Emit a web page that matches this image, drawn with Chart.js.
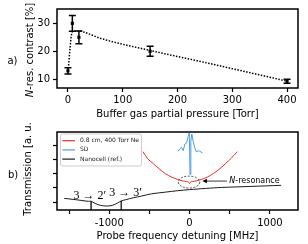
<!DOCTYPE html>
<html>
<head>
<meta charset="utf-8">
<script src="https://cdn.jsdelivr.net/npm/chart.js@4.4.0/dist/chart.umd.min.js"></script>
<style>
  html, body { margin: 0; padding: 0; background: #fff; }
  body { width: 308px; height: 244px; position: relative; overflow: hidden; }
  canvas { position: absolute; left: 0; }
  #chart-a { top: 0; }
  #chart-b { top: 122px; }
</style>
</head>
<body>
<canvas id="chart-a" width="308" height="122"></canvas>
<canvas id="chart-b" width="308" height="122"></canvas>
<script>
// ─── Panel a: contrast vs buffer gas pressure ───────────────────
const pressure = [0, 8, 20, 150, 400];
const contrast = [13, 30, 25, 20, 9.3];
const contrastErr = [1.1, 2.8, 2.3, 1.8, 0.7];
const fitPressure = [0, 8, 20, 30, 60, 150, 250, 400];
const fitContrast = [12.8, 27.0, 27.3, 26.8, 24.6, 20.3, 16.0, 9.3];
const pressureTicks = [0, 100, 200, 300, 400];
const contrastTicks = [10, 20, 30];

// ─── Panel b: transmission spectra ──────────────────────────────
const redDetuning = [-580, -520, -450, -380, -300, -220, -150, -90, -40, -15, 0, 15, 40, 90, 150, 220, 300, 380, 450, 520, 595];
const redTrans = [4.55, 4.05, 3.70, 3.35, 3.00, 2.75, 2.60, 2.50, 2.45, 2.42, 2.30, 2.42, 2.45, 2.50, 2.60, 2.76, 3.02, 3.37, 3.72, 4.10, 4.55];
const sdDetuning = [-142, -121, -100, -79, -58, -37, -17, -3, 6, 16, 28, 45, 66, 87, 108, 129, 162];
const sdTrans = [4.58, 4.76, 4.86, 4.62, 5.09, 5.16, 5.63, 5.87, 2.95, 5.30, 5.80, 5.28, 4.81, 4.53, 4.62, 4.58, 4.46];
const nanoDetuning = [-1560, -1450, -1340, -1260, -1225, -1190, -1140, -1080, -1020, -960, -900, -850, -800, -700, -600, -475, -300, -150, 0, 200, 400, 750, 1140];
const nanoTrans = [1.26, 1.19, 1.11, 1.05, 1.06, 0.95, 0.82, 0.74, 0.72, 0.77, 0.92, 1.08, 1.16, 1.30, 1.42, 1.58, 1.70, 1.80, 1.88, 1.96, 2.03, 2.10, 2.18];
const transitionX = [-1225, -850];
const transitionTop = [1.06, 1.08];
const transitionLabels = ['3 \u2192 2\u2032', '3 \u2192 3\u2032'];
const transitionLabelX = [-1240, -795];
const transitionLabelY = [1.46, 1.65];
const detuningTicks = [-1500, -1000, -500, 0, 500, 1000];
const detuningLabelled = [-1000, 0, 1000];
const transTicks = [1, 2, 3, 4, 5];
const yMinB = 0.44, yMaxB = 5.94;

Chart.defaults.font.family = "'DejaVu Sans', sans-serif";
Chart.defaults.font.size = 10;
Chart.defaults.color = '#000';

const xy = (xs, ys) => xs.map((x, i) => ({ x, y: ys[i] }));

// box round the plot area, like matplotlib spines
const frame = {
  id: 'frame',
  afterDraw(chart) {
    const { ctx, chartArea: a } = chart;
    ctx.save();
    ctx.strokeStyle = '#000';
    ctx.lineWidth = 1.5;
    ctx.strokeRect(a.left, a.top, a.right - a.left, a.bottom - a.top);
    ctx.restore();
  }
};

// rotated y title, with optional italic first letter
function drawYTitle(ctx, cx, cy, italicPart, rest) {
  ctx.save();
  ctx.translate(cx, cy);
  ctx.rotate(-Math.PI / 2);
  ctx.fillStyle = '#000';
  ctx.textBaseline = 'middle';
  ctx.font = "italic 10px 'DejaVu Sans'";
  const w1 = italicPart ? ctx.measureText(italicPart).width : 0;
  ctx.font = "10px 'DejaVu Sans'";
  const w2 = ctx.measureText(rest).width;
  let x = -(w1 + w2) / 2;
  if (italicPart) {
    ctx.font = "italic 10px 'DejaVu Sans'";
    ctx.fillText(italicPart, x, 0);
    x += w1;
  }
  ctx.font = "10px 'DejaVu Sans'";
  ctx.fillText(rest, x, 0);
  ctx.restore();
}

function axisCommon(tickVals) {
  return {
    grid: { display: true, drawOnChartArea: false, drawTicks: true, tickLength: 4, tickWidth: 1.2, tickColor: '#000' },
    border: { display: false },
    afterBuildTicks: s => { s.ticks = tickVals.map(v => ({ value: v })); }
  };
}

// ─── Chart a ────────────────────────────────────────────────────
const errorBars = {
  id: 'errorBars',
  afterDatasetsDraw(chart) {
    const { ctx, scales: { x, y } } = chart;
    ctx.save();
    ctx.strokeStyle = '#000';
    ctx.lineWidth = 1.5;
    pressure.forEach((p, i) => {
      const px = x.getPixelForValue(p);
      const top = y.getPixelForValue(contrast[i] + contrastErr[i]);
      const bot = y.getPixelForValue(contrast[i] - contrastErr[i]);
      ctx.beginPath();
      ctx.moveTo(px, top); ctx.lineTo(px, bot);
      ctx.moveTo(px - 3.5, top); ctx.lineTo(px + 3.5, top);
      ctx.moveTo(px - 3.5, bot); ctx.lineTo(px + 3.5, bot);
      ctx.stroke();
    });
    ctx.restore();
  }
};

const labelsA = {
  id: 'labelsA',
  afterDraw(chart) {
    const ctx = chart.ctx;
    ctx.save();
    ctx.fillStyle = '#000';
    ctx.font = "10px 'DejaVu Sans'";
    ctx.textBaseline = 'middle';
    ctx.textAlign = 'center';
    ctx.fillText('a)', 12.5, 61.5);
    ctx.restore();
    drawYTitle(ctx, 30, 50, 'N', '-res. contrast [%]');
  }
};

new Chart(document.getElementById('chart-a'), {
  type: 'scatter',
  data: {
    datasets: [
      {
        data: xy(pressure, contrast),
        pointStyle: 'rect',
        pointRadius: 2.2,
        backgroundColor: '#000',
        borderColor: '#000',
        borderWidth: 0
      },
      {
        data: xy(fitPressure, fitContrast),
        showLine: true,
        borderColor: '#000',
        borderWidth: 1.5,
        borderDash: [1.5, 1.5],
        pointRadius: 0,
        cubicInterpolationMode: 'monotone'
      }
    ]
  },
  options: {
    responsive: false,
    animation: false,
    layout: { padding: { left: 0, right: 10, top: 7, bottom: 2 } },
    plugins: { legend: { display: false }, tooltip: { enabled: false } },
    scales: {
      x: {
        ...axisCommon(pressureTicks),
        type: 'linear',
        min: -20, max: 420,
        ticks: { padding: 2, maxRotation: 0, callback: v => String(v) },
        title: { display: true, text: 'Buffer gas partial pressure [Torr]', padding: 0, font: { size: 10 } },
        afterFit: s => { s.height = 32; }
      },
      y: {
        ...axisCommon(contrastTicks),
        min: 6.86, max: 35.13,
        ticks: { padding: 3, callback: v => String(v) },
        afterFit: s => { s.width = 57; }
      }
    }
  },
  plugins: [errorBars, frame, labelsA]
});

// ─── Chart b ────────────────────────────────────────────────────
const insetLegend = {
  id: 'insetLegend',
  afterDraw(chart) {
    const { ctx, chartArea: a } = chart;
    const items = chart.data.datasets.filter(d => d.label);
    const x0 = a.left + 3.5, y0 = a.top + 2, w = 81, h = 32, rowH = 9.2;
    ctx.save();
    ctx.fillStyle = 'rgba(255,255,255,0.8)';
    ctx.strokeStyle = '#cccccc';
    ctx.lineWidth = 1;
    ctx.beginPath();
    ctx.roundRect(x0, y0, w, h, 2);
    ctx.fill();
    ctx.stroke();
    ctx.font = "6px 'DejaVu Sans'";
    ctx.textBaseline = 'middle';
    items.forEach((d, i) => {
      const yy = y0 + 6.7 + i * rowH;
      ctx.strokeStyle = d.borderColor;
      ctx.lineWidth = 1.2;
      ctx.beginPath();
      ctx.moveTo(x0 + 1.8, yy);
      ctx.lineTo(x0 + 14.5, yy);
      ctx.stroke();
      ctx.fillStyle = '#222';
      ctx.fillText(d.label, x0 + 19.5, yy);
    });
    ctx.restore();
  }
};

const annotationsB = {
  id: 'annotationsB',
  afterDatasetsDraw(chart) {
    const { ctx, scales: { x, y } } = chart;
    ctx.save();
    // transition labels
    ctx.fillStyle = '#000';
    ctx.font = "12px 'Liberation Serif'";
    ctx.textAlign = 'center';
    ctx.textBaseline = 'middle';
    transitionLabels.forEach((t, i) => {
      ctx.fillText(t, x.getPixelForValue(transitionLabelX[i]), y.getPixelForValue(transitionLabelY[i]));
    });
    // dashed ellipse round the N-resonance
    const ex = x.getPixelForValue(-6), ey = y.getPixelForValue(2.41);
    const rx = x.getPixelForValue(134) - x.getPixelForValue(0);
    const ry = y.getPixelForValue(0) - y.getPixelForValue(0.42);
    ctx.strokeStyle = '#222';
    ctx.lineWidth = 0.8;
    ctx.setLineDash([2, 1.5]);
    ctx.beginPath();
    ctx.ellipse(ex, ey, rx, ry, 0, 0, Math.PI * 2);
    ctx.stroke();
    ctx.setLineDash([]);
    // arrow
    const ay = y.getPixelForValue(2.48);
    const ax1 = x.getPixelForValue(465), ax2 = x.getPixelForValue(160);
    ctx.lineWidth = 0.9;
    ctx.beginPath();
    ctx.moveTo(ax1, ay); ctx.lineTo(ax2 + 3, ay);
    ctx.stroke();
    ctx.fillStyle = '#000';
    ctx.beginPath();
    ctx.moveTo(ax2, ay); ctx.lineTo(ax2 + 4.5, ay - 2.2); ctx.lineTo(ax2 + 4.5, ay + 2.2);
    ctx.closePath();
    ctx.fill();
    // N-resonance text
    let tx = x.getPixelForValue(495);
    ctx.textAlign = 'left';
    ctx.font = "italic 8px 'DejaVu Sans'";
    ctx.fillText('N', tx, ay);
    tx += ctx.measureText('N').width;
    ctx.font = "8px 'DejaVu Sans'";
    ctx.fillText('-resonance', tx, ay);
    ctx.restore();
  },
  afterDraw(chart) {
    const ctx = chart.ctx;
    ctx.save();
    ctx.fillStyle = '#000';
    ctx.font = "10px 'DejaVu Sans'";
    ctx.textBaseline = 'middle';
    ctx.textAlign = 'center';
    ctx.fillText('b)', 13, 53.5);
    ctx.restore();
    drawYTitle(ctx, 28.5, 45, '', 'Transmission [a. u.]');
  }
};

const transitionSets = transitionX.map((tx, i) => ({
  data: [{ x: tx, y: transitionTop[i] }, { x: tx, y: yMinB }],
  showLine: true,
  borderColor: '#333',
  borderWidth: 0.9,
  pointRadius: 0
}));

new Chart(document.getElementById('chart-b'), {
  type: 'scatter',
  data: {
    datasets: [
      {
        label: '0.8 cm, 400 Torr Ne',
        data: xy(redDetuning, redTrans),
        showLine: true,
        borderColor: '#f02828',
        borderWidth: 1,
        pointRadius: 0,
        tension: 0.3
      },
      {
        label: 'SD',
        data: xy(sdDetuning, sdTrans),
        showLine: true,
        borderColor: '#4b9de8',
        borderWidth: 1,
        pointRadius: 0,
        tension: 0
      },
      {
        label: 'Nanocell (ref.)',
        data: xy(nanoDetuning, nanoTrans),
        showLine: true,
        borderColor: '#1a1a1a',
        borderWidth: 1,
        pointRadius: 0,
        tension: 0.3
      },
      ...transitionSets
    ]
  },
  options: {
    responsive: false,
    animation: false,
    layout: { padding: { left: 0, right: 10, top: 10, bottom: 2 } },
    plugins: { legend: { display: false }, tooltip: { enabled: false } },
    scales: {
      x: {
        ...axisCommon(detuningTicks),
        type: 'linear',
        min: -1650, max: 1350,
        ticks: { padding: 3, maxRotation: 0, callback: v => detuningLabelled.includes(v) ? String(v) : '' },
        title: { display: true, text: 'Probe frequency detuning [MHz]', padding: 0, font: { size: 10 } },
        afterFit: s => { s.height = 32; }
      },
      y: {
        ...axisCommon(transTicks),
        min: yMinB, max: yMaxB,
        ticks: { padding: 3, callback: () => '' },
        afterFit: s => { s.width = 57; }
      }
    }
  },
  plugins: [frame, annotationsB, insetLegend]
});
</script>
</body>
</html>
